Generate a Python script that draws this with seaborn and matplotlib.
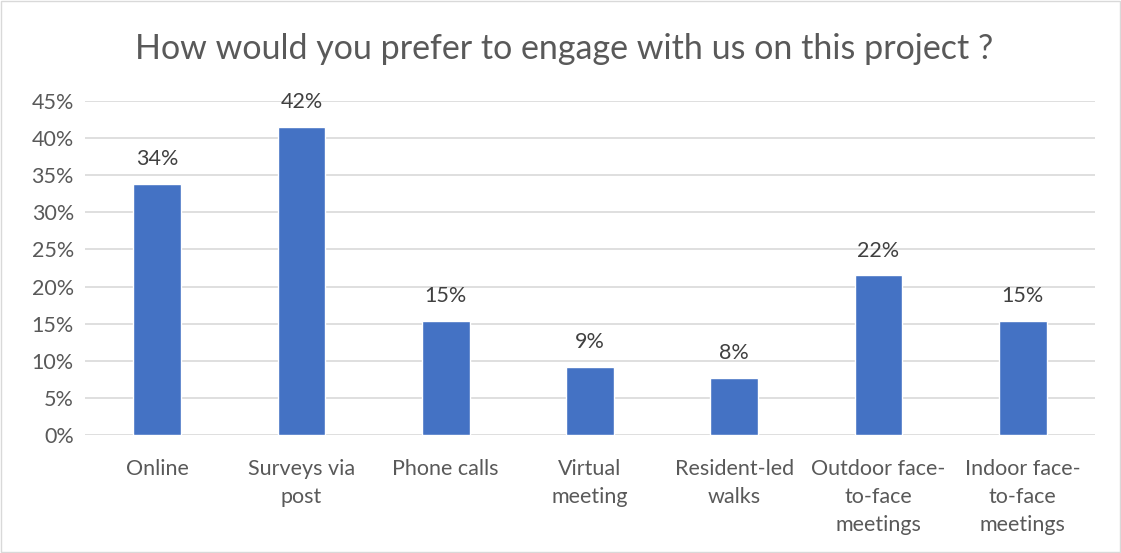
import pandas as pd
import seaborn as sns
import matplotlib.pyplot as plt
from matplotlib.patches import Rectangle

# datos
categorias = ['Online', 'Surveys via\npost', 'Phone calls', 'Virtual\nmeeting',
              'Resident-led\nwalks', 'Outdoor face-\nto-face\nmeetings',
              'Indoor face-\nto-face\nmeetings']
valores = [33.8, 41.5, 15.4, 9.2, 7.7, 21.5, 15.4]
etiquetas = ['34%', '42%', '15%', '9%', '8%', '22%', '15%']
yticks = [0, 5, 10, 15, 20, 25, 30, 35, 40, 45]

df = pd.DataFrame({'cat': categorias, 'val': valores})

sns.set_theme(style="white")
plt.rcParams['font.family'] = ['Lato', 'DejaVu Sans']

fig = plt.figure(figsize=(11.21, 5.53), dpi=100)
ax = fig.add_axes([0.0758, 0.2134, 0.901, 0.604])

sns.barplot(data=df, x='cat', y='val', color='#4472C4', width=0.33,
            saturation=1, ax=ax, zorder=3)

for i, (v, t) in enumerate(zip(valores, etiquetas)):
    ax.text(i, v + 2.0, t, ha='center', va='bottom', fontsize=15.5, color='#404040')

ax.set_ylim(0, 45)
ax.set_yticks(yticks)
ax.set_yticklabels([f'{t}%' for t in yticks], fontsize=15.5, color='#595959')
ax.set_xticklabels(categorias, fontsize=15.5, color='#595959', linespacing=1.5, va='top')
ax.tick_params(axis='y', length=0, pad=8)
ax.tick_params(axis='x', length=0, pad=17)
ax.set_xlabel('')
ax.set_ylabel('')
ax.grid(axis='y', color='#d9d9d9', linewidth=1.2, zorder=0)
for s in ax.spines.values():
    s.set_visible(False)

fig.text(0.503, 0.912, 'How would you prefer to engage with us on this project ?',
         ha='center', va='center', fontsize=24.5, color='#595959')

# marco del grafico
fig.patches.append(Rectangle((0.001, 0.001), 0.998, 0.998, transform=fig.transFigure,
                             fill=False, edgecolor='#d9d9d9', linewidth=1))

plt.savefig('out.png', dpi=100)
plt.close()
